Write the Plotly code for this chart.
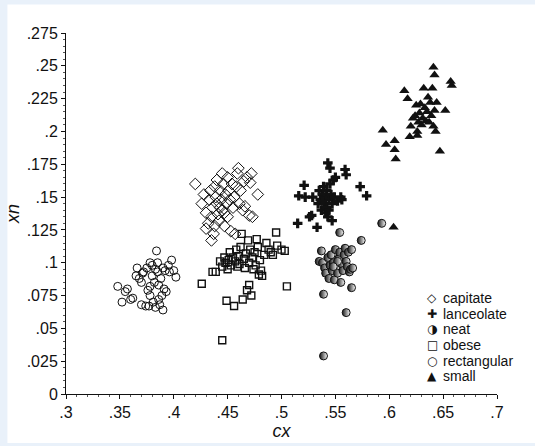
import plotly.graph_objects as go

# ---------------- data (cx, xn) ----------------
capitate_x = [.420,.426,.428,.430,.430,.432,.433,.434,.435,.435,.436,.437,.438,.438,.439,.440,.440,.441,.442,.443,.444,.445,.445,.446,.447,.448,.449,.450,.450,.451,.452,.453,.454,.455,.456,.457,.458,.459,.460,.461,.462,.464,.465,.466,.468,.470,.471,.472,.473,.478,.443,.447]
capitate_y = [.160,.145,.152,.138,.126,.130,.148,.155,.117,.135,.142,.122,.158,.128,.150,.163,.145,.137,.132,.155,.148,.168,.140,.160,.128,.152,.145,.135,.165,.155,.148,.124,.160,.142,.150,.122,.158,.168,.172,.145,.155,.140,.162,.143,.165,.136,.161,.168,.135,.152,.142,.138]

lanceolate_x = [.515,.516,.521,.522,.526,.528,.529,.533,.534,.535,.536,.537,.538,.539,.540,.540,.541,.542,.542,.543,.543,.544,.545,.545,.546,.547,.547,.548,.549,.550,.552,.555,.556,.559,.560,.573,.579,.544,.538]
lanceolate_y = [.130,.151,.159,.150,.135,.136,.150,.127,.145,.155,.148,.140,.152,.158,.145,.150,.138,.155,.142,.135,.176,.148,.160,.172,.152,.132,.145,.163,.150,.165,.147,.150,.148,.171,.167,.158,.151,.140,.147]

neat_x = [.539,.539,.560,.565,.554,.574,.593,.537,.535,.538,.540,.541,.543,.544,.545,.546,.547,.548,.549,.550,.551,.552,.553,.554,.555,.556,.557,.558,.559,.560,.561,.562,.563,.564,.566,.565,.552,.548]
neat_y = [.029,.076,.062,.081,.123,.117,.130,.109,.101,.100,.096,.092,.104,.088,.098,.106,.094,.100,.087,.110,.096,.092,.103,.108,.085,.099,.094,.106,.111,.101,.097,.108,.093,.095,.096,.110,.101,.097]

obese_x = [.426,.436,.439,.445,.443,.445,.447,.448,.449,.450,.451,.452,.453,.455,.456,.457,.458,.459,.460,.461,.462,.463,.464,.465,.466,.467,.468,.469,.470,.470,.471,.472,.473,.474,.475,.476,.477,.478,.479,.480,.481,.482,.484,.486,.488,.490,.492,.496,.495,.500,.503,.505]
obese_y = [.084,.093,.093,.041,.101,.097,.104,.100,.071,.095,.102,.108,.098,.104,.067,.101,.110,.097,.105,.099,.112,.122,.072,.103,.096,.107,.079,.117,.083,.100,.110,.075,.104,.095,.108,.098,.118,.112,.091,.102,.094,.090,.106,.115,.110,.108,.106,.113,.123,.110,.109,.082]

rectangular_x = [.348,.352,.355,.357,.360,.362,.365,.366,.368,.370,.370,.372,.374,.375,.376,.377,.378,.378,.380,.380,.381,.382,.383,.384,.385,.385,.386,.387,.388,.389,.390,.390,.391,.392,.393,.395,.396,.398,.400,.402,.378,.383,.371,.386]
rectangular_y = [.082,.070,.078,.080,.072,.073,.090,.096,.088,.085,.068,.093,.067,.096,.079,.067,.075,.100,.098,.090,.070,.085,.066,.109,.100,.093,.072,.068,.088,.075,.096,.064,.080,.094,.078,.098,.093,.102,.094,.089,.082,.095,.092,.083]

small_x = [.594,.597,.605,.605,.606,.604,.614,.617,.619,.620,.622,.624,.625,.626,.627,.628,.629,.630,.631,.632,.633,.634,.635,.636,.637,.638,.639,.640,.641,.642,.643,.644,.641,.642,.647,.652,.657,.658,.626]
small_y = [.201,.190,.193,.186,.179,.127,.231,.225,.196,.204,.210,.212,.220,.200,.207,.214,.221,.205,.210,.233,.218,.208,.215,.226,.207,.222,.212,.233,.204,.216,.200,.222,.249,.243,.185,.216,.238,.235,.197]

x_ticks = [.3,.35,.4,.45,.5,.55,.6,.65,.7]
x_ticktext = [".3",".35",".4",".45",".5",".55",".6",".65",".7"]
y_ticks = [0,.025,.05,.075,.1,.125,.15,.175,.2,.225,.25,.275]
y_ticktext = ["0",".025",".05",".075",".1",".125",".15",".175",".2",".225",".25",".275"]

legend_labels = ["capitate","lanceolate","neat","obese","rectangular","small"]
legend_symbols = ["\u25C7","\u271A","\u25D1","\u25A1","\u25CB","\u25B2"]

# ---------------- figure ----------------
W, H = 535, 446
L, R, T, B = 63, 38, 33, 45
INK = "#111111"

fig = go.Figure()

fig.add_trace(go.Scatter(x=capitate_x, y=capitate_y, mode="markers", name="capitate",
    marker=dict(symbol="diamond-open", size=9, color=INK, line=dict(width=1, color=INK))))
fig.add_trace(go.Scatter(x=obese_x, y=obese_y, mode="markers", name="obese",
    marker=dict(symbol="square-open", size=7, color=INK, line=dict(width=1.4, color=INK))))
fig.add_trace(go.Scatter(x=rectangular_x, y=rectangular_y, mode="markers", name="rectangular",
    marker=dict(symbol="circle-open", size=8, color=INK, line=dict(width=1, color=INK))))
fig.add_trace(go.Scatter(x=lanceolate_x, y=lanceolate_y, mode="markers", name="lanceolate",
    marker=dict(symbol="cross", size=8, color=INK, line=dict(width=0))))
fig.add_trace(go.Scatter(x=neat_x, y=neat_y, mode="markers", name="neat",
    marker=dict(symbol="circle", size=8, color=INK,
                gradient=dict(type="horizontal", color="white"),
                line=dict(width=1, color=INK))))
fig.add_trace(go.Scatter(x=small_x, y=small_y, mode="markers", name="small",
    marker=dict(symbol="triangle-up", size=9, color=INK, line=dict(width=0))))

def px2paper(px, py):
    return (px - L) / (W - L - R), (H - B - py) / (H - T - B)

annotations = []
row_y = [303, 319, 335, 351, 367, 383]
for lab, sym, ry in zip(legend_labels, legend_symbols, row_y):
    sx, sy = px2paper(432, ry)
    tx, ty = px2paper(441, ry)
    annotations.append(dict(x=sx, y=sy, xref="paper", yref="paper", text=sym, showarrow=False,
                            xanchor="center", yanchor="middle",
                            font=dict(family="DejaVu Sans", size=12, color=INK)))
    annotations.append(dict(x=tx, y=ty, xref="paper", yref="paper", text=lab, showarrow=False,
                            xanchor="left", yanchor="middle",
                            font=dict(family="Liberation Sans, Arial", size=14, color=INK)))

# light blue frame of the page
x0, y1 = px2paper(4, 4)
x1, y0 = px2paper(W + 5, H + 5)
shapes = [dict(type="rect", xref="paper", yref="paper", x0=x0, x1=x1, y0=y0, y1=y1,
               fillcolor="white", line=dict(width=0), layer="below")]

fig.update_layout(
    width=W, height=H,
    margin=dict(l=L, r=R, t=T, b=B),
    paper_bgcolor="#e9f1fa", plot_bgcolor="white",
    showlegend=False,
    font=dict(family="Liberation Sans, Arial", size=16, color=INK),
    annotations=annotations,
    shapes=shapes,
)
fig.update_xaxes(range=[0.3, 0.7], tickvals=x_ticks, ticktext=x_ticktext,
                 showgrid=False, zeroline=False, showline=True, linecolor=INK, linewidth=1,
                 ticks="outside", ticklen=4, tickcolor=INK,
                 minor=dict(dtick=0.01, ticks="outside", ticklen=2, tickcolor="#555", showgrid=False),
                 title=dict(text="<i>cx</i>", font=dict(size=18), standoff=0))
fig.update_yaxes(range=[0, 0.275], tickvals=y_ticks, ticktext=y_ticktext,
                 showgrid=False, zeroline=False, showline=True, linecolor=INK, linewidth=1,
                 ticks="outside", ticklen=4, tickcolor=INK,
                 minor=dict(dtick=0.005, ticks="outside", ticklen=2, tickcolor="#555", showgrid=False),
                 title=dict(text="<i>xn</i>", font=dict(size=18), standoff=2))

fig.write_html("out.html")
